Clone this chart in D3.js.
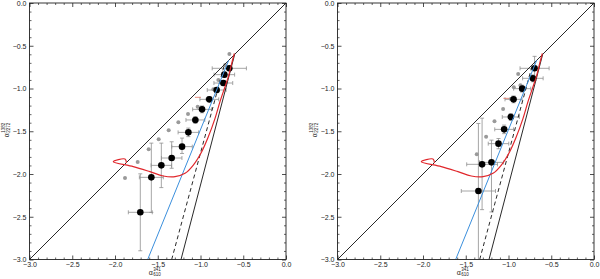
<!DOCTYPE html>
<html>
<head>
<meta charset="utf-8">
<script src="https://cdn.jsdelivr.net/npm/d3@7"></script>
<style>
  html, body { margin: 0; padding: 0; background: #fff; }
  svg { display: block; }
</style>
</head>
<body>
<svg id="chart" width="600" height="279"></svg>
<script>
// axis ticks (both axes, both panels)
const majorTicks = [-3.0, -2.5, -2.0, -1.5, -1.0, -0.5, 0.0];
const minorTicks = [-2.9, -2.8, -2.7, -2.6, -2.4, -2.3, -2.2, -2.1, -1.9, -1.8, -1.7, -1.6,
  -1.4, -1.3, -1.2, -1.1, -0.9, -0.8, -0.7, -0.6, -0.4, -0.3, -0.2, -0.1];

// model lines shared by both panels
const diagX = [-3.0, 0.0];
const diagY = [-3.0, 0.0];
const steepX = [-1.228, -0.600];
const steepY = [-3.0, -0.600];
const dashX = [-1.337, -0.720];
const dashY = [-3.0, -0.720];
const blueX = [-1.618, -0.670];
const blueY = [-3.0, -0.670];
const redX = [-0.604, -0.635, -0.674, -0.713, -0.772, -0.830, -0.908, -0.986, -1.084, -1.181,
  -1.298, -1.435, -1.591, -1.786, -2.020, -1.883, -1.866];
const redY = [-0.589, -0.706, -0.862, -0.979, -1.154, -1.349, -1.563, -1.739, -1.895, -1.992,
  -2.031, -2.023, -1.973, -1.914, -1.856, -1.825, -1.872];

// left panel
const leftBlackX = [-0.663, -0.721, -0.733, -0.811, -0.897, -0.982, -1.060, -1.142, -1.216, -1.337, -1.458, -1.575, -1.704];
const leftBlackY = [-0.764, -0.838, -0.936, -1.018, -1.127, -1.244, -1.368, -1.513, -1.680, -1.813, -1.899, -2.039, -2.448];
const leftXErr = [0.20, 0.12, 0.11, 0.11, 0.11, 0.11, 0.11, 0.12, 0.12, 0.12, 0.12, 0.14, 0.14];
const leftYErrUp = [0.03, 0.03, 0.03, 0.03, 0.03, 0.04, 0.04, 0.05, 0.10, 0.19, 0.26, 0.40, 0.45];
const leftYErrDown = [0.03, 0.03, 0.03, 0.03, 0.03, 0.04, 0.04, 0.05, 0.08, 0.12, 0.26, 0.41, 0.45];
const leftGrayX = [-0.662, -0.712, -0.791, -0.850, -0.920, -1.033, -1.146, -1.259, -1.372, -1.489, -1.606, -1.735, -1.883];
const leftGrayY = [-0.597, -0.725, -0.901, -1.010, -1.127, -1.212, -1.298, -1.396, -1.489, -1.595, -1.711, -1.860, -2.047];
const leftRedBarX = [-1.065, -0.995];
const leftRedBarY = -1.103;

// right panel
const rightBlackX = [-0.695, -0.715, -0.840, -0.941, -0.973, -1.051, -1.117, -1.199, -1.309, -1.352];
const rightBlackY = [-0.764, -0.881, -1.002, -1.127, -1.333, -1.478, -1.645, -1.864, -1.887, -2.199];
const rightXErr = [0.17, 0.12, 0.10, 0.10, 0.10, 0.11, 0.12, 0.14, 0.18, 0.20];
const rightYErrUp = [0.14, 0.04, 0.04, 0.04, 0.04, 0.05, 0.06, 0.26, 0.54, 0.79];
const rightYErrDown = [0.14, 0.04, 0.04, 0.04, 0.04, 0.05, 0.06, 0.58, 0.53, 1.00];
const rightGrayX = [-0.887, -0.860, -0.938, -0.973, -1.063, -1.164, -1.262, -1.371];
const rightGrayY = [-0.830, -0.963, -0.986, -1.123, -1.240, -1.384, -1.563, -1.770];
const rightRedBarX = [-1.060, -0.990];
const rightRedBarY = -1.115;

const svg = d3.select("#chart");
const font = "'Liberation Sans', Arial, Helvetica, sans-serif";
const size = 256.5;
const panels = [
  { left: 29.5, top: 3, clip: "clipL",
    bx: leftBlackX, by: leftBlackY, xe: leftXErr, yu: leftYErrUp, yd: leftYErrDown,
    gx: leftGrayX, gy: leftGrayY, rbx: leftRedBarX, rby: leftRedBarY },
  { left: 337.5, top: 3, clip: "clipR",
    bx: rightBlackX, by: rightBlackY, xe: rightXErr, yu: rightYErrUp, yd: rightYErrDown,
    gx: rightGrayX, gy: rightGrayY, rbx: rightRedBarX, rby: rightRedBarY }
];

const x = d3.scaleLinear().domain([-3, 0]).range([0, size]);
const y = d3.scaleLinear().domain([-3, 0]).range([size, 0]);
const fmt = d3.format(".1f");
const zip = (xs, ys) => xs.map((v, i) => [v, ys[i]]);
const line = d3.line().x(d => x(d[0])).y(d => y(d[1]));
const redLine = d3.line().x(d => x(d[0])).y(d => y(d[1])).curve(d3.curveCatmullRom.alpha(0.5));

const defs = svg.append("defs");

panels.forEach(p => {
  defs.append("clipPath").attr("id", p.clip)
    .append("rect").attr("width", size).attr("height", size);

  const g = svg.append("g").attr("transform", `translate(${p.left},${p.top})`);
  const plot = g.append("g").attr("clip-path", `url(#${p.clip})`);

  const pts = p.bx.map((v, i) => ({ x: v, y: p.by[i], xe: p.xe[i], yu: p.yu[i], yd: p.yd[i] }));

  // error bars
  const eb = plot.append("g").attr("stroke", "#8f8f8f").attr("stroke-width", 0.8).attr("fill", "none");
  pts.forEach(d => {
    const cx = x(d.x), cy = y(d.y);
    const x0 = x(d.x - d.xe), x1 = x(d.x + d.xe);
    const yTop = y(d.y + d.yu), yBot = y(d.y - d.yd);
    eb.append("line").attr("x1", x0).attr("x2", x1).attr("y1", cy).attr("y2", cy);
    eb.append("line").attr("x1", x0).attr("x2", x0).attr("y1", cy - 2).attr("y2", cy + 2);
    eb.append("line").attr("x1", x1).attr("x2", x1).attr("y1", cy - 2).attr("y2", cy + 2);
    eb.append("line").attr("x1", cx).attr("x2", cx).attr("y1", yTop).attr("y2", yBot);
    eb.append("line").attr("x1", cx - 2).attr("x2", cx + 2).attr("y1", yTop).attr("y2", yTop);
    eb.append("line").attr("x1", cx - 2).attr("x2", cx + 2).attr("y1", yBot).attr("y2", yBot);
  });

  // short reddish bar
  plot.append("line")
    .attr("x1", x(p.rbx[0])).attr("x2", x(p.rbx[1]))
    .attr("y1", y(p.rby)).attr("y2", y(p.rby))
    .attr("stroke", "#e07060").attr("stroke-width", 0.8);

  // gray points
  plot.append("g").selectAll("circle").data(zip(p.gx, p.gy)).join("circle")
    .attr("cx", d => x(d[0])).attr("cy", d => y(d[1])).attr("r", 2)
    .attr("fill", "#9a9a9a");

  // black points
  plot.append("g").selectAll("circle").data(pts).join("circle")
    .attr("cx", d => x(d.x)).attr("cy", d => y(d.y)).attr("r", 3.3)
    .attr("fill", "#000");

  // model lines
  plot.append("path").attr("d", line(zip(diagX, diagY)))
    .attr("stroke", "#111").attr("stroke-width", 0.9).attr("fill", "none");
  plot.append("path").attr("d", line(zip(steepX, steepY)))
    .attr("stroke", "#111").attr("stroke-width", 0.9).attr("fill", "none");
  plot.append("path").attr("d", line(zip(dashX, dashY)))
    .attr("stroke", "#111").attr("stroke-width", 0.9).attr("stroke-dasharray", "4,3").attr("fill", "none");
  plot.append("path").attr("d", line(zip(blueX, blueY)))
    .attr("stroke", "#3b8fdc").attr("stroke-width", 1).attr("fill", "none");
  plot.append("path").attr("d", redLine(zip(redX, redY)))
    .attr("stroke", "#e0262b").attr("stroke-width", 1.2).attr("fill", "none")
    .attr("stroke-linejoin", "miter");

  // axes, IDL style: ticks inward on all four sides
  const axes = [
    { ax: d3.axisBottom(x), tr: `translate(0,${size})`, labels: true },
    { ax: d3.axisTop(x), tr: `translate(0,0)`, labels: false },
    { ax: d3.axisLeft(y), tr: `translate(0,0)`, labels: true },
    { ax: d3.axisRight(y), tr: `translate(${size},0)`, labels: false }
  ];
  axes.forEach(a => {
    const gm = g.append("g").attr("transform", a.tr)
      .call(a.ax.tickValues(minorTicks).tickSize(-2).tickFormat(""));
    gm.select(".domain").remove();
    gm.selectAll("line").attr("stroke", "#222").attr("stroke-width", 0.7);
    const gM = g.append("g").attr("transform", a.tr)
      .call(a.ax.tickValues(majorTicks).tickSize(-4).tickPadding(3)
        .tickFormat(a.labels ? fmt : ""));
    gM.select(".domain").remove();
    gM.selectAll("line").attr("stroke", "#222").attr("stroke-width", 0.8);
    gM.selectAll("text").attr("fill", "#222").style("font-size", "7px").style("font-family", font);
  });

  g.append("rect").attr("width", size).attr("height", size)
    .attr("fill", "none").attr("stroke", "#222").attr("stroke-width", 0.9);

  // axis titles
  const xt = g.append("g").attr("transform", `translate(${x(-1.5) - 9},${size + 15.5})`)
    .style("font-family", font).attr("fill", "#222");
  xt.append("text").attr("x", 0).attr("y", 0).style("font-size", "7px").text("α");
  xt.append("text").attr("x", 4.5).attr("y", -4).style("font-size", "4.5px").text("341");
  xt.append("text").attr("x", 4.5).attr("y", 1.3).style("font-size", "4.5px").text("610");

  const yt = g.append("g").attr("transform", `translate(${-20.5},${size / 2 + 6}) rotate(-90)`)
    .style("font-family", font).attr("fill", "#222");
  yt.append("text").attr("x", 0).attr("y", 0).style("font-size", "7px").text("α");
  yt.append("text").attr("x", 4.5).attr("y", -4).style("font-size", "4.5px").text("1382");
  yt.append("text").attr("x", 4.5).attr("y", 1.3).style("font-size", "4.5px").text("2272");
});
</script>
</body>
</html>
